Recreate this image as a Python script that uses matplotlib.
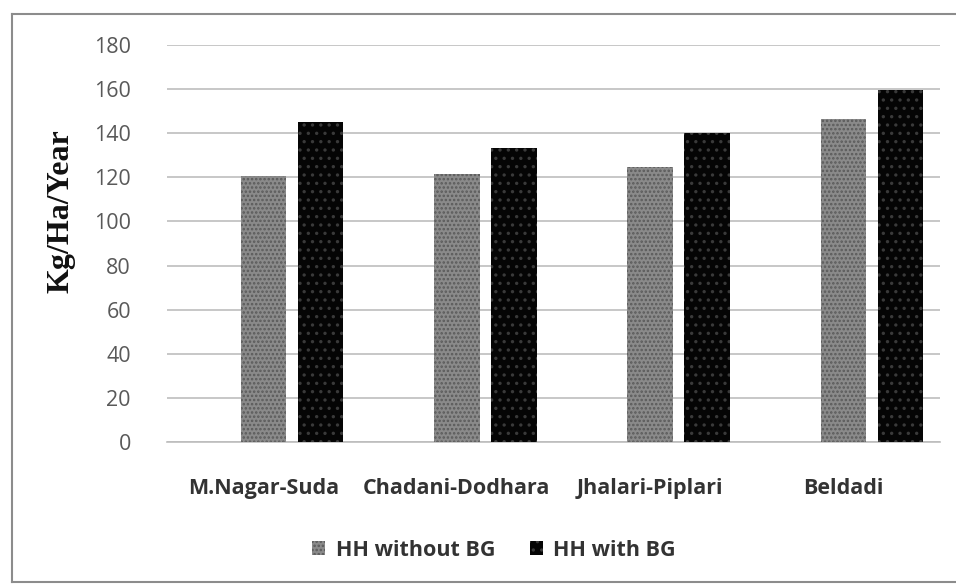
import numpy as np
import matplotlib.pyplot as plt
from matplotlib.lines import Line2D

sites = ["M.Nagar-Suda", "Chadani-Dodhara", "Jhalari-Piplari", "Beldadi"]
without_bg = [120.5, 121.5, 124.5, 146.5]
with_bg = [145, 133.5, 140, 159.5]
yticks = list(range(0, 181, 20))

plt.rcParams['hatch.linewidth'] = 1.2

fig = plt.figure(figsize=(9.56, 5.86), dpi=100)
ax = fig.add_axes([167 / 956, 1 - 442 / 586, 773 / 956, 397 / 586])

x = np.arange(len(sites))
w = 0.235
off = 0.295

ax.bar(x, without_bg, w, color="#8a8a8a", edgecolor="#5a5a5a", hatch="....",
       linewidth=0, label="HH without BG", zorder=3)
ax.bar(x + off, with_bg, w, color="#050505", edgecolor="#3a3a3a", hatch="..",
       linewidth=0, label="HH with BG", zorder=3)

ax.set_xlim(-0.5, len(sites) - 0.5)
ax.set_ylim(0, 180)
ax.set_yticks(yticks)
ax.set_xticks(x)
ax.set_xticklabels(sites, fontfamily="Open Sans", fontweight="bold",
                   fontsize=15.5, color="#333333")
ax.tick_params(axis="x", length=0, pad=26)
ax.tick_params(axis="y", length=0, pad=26, labelsize=15.5, labelcolor="#595959")
for lab in ax.get_yticklabels():
    lab.set_fontfamily("Open Sans")

ax.grid(axis="y", color="#bdbdbd", linewidth=1.2, zorder=0)
for s in ["top", "right", "left"]:
    ax.spines[s].set_visible(False)
ax.spines["bottom"].set_color("#bdbdbd")
ax.spines["bottom"].set_linewidth(1.2)

ax.set_ylabel("Kg/Ha/Year", fontfamily="Liberation Serif", fontweight="bold",
              fontsize=23, color="#111111")
ax.yaxis.set_label_coords(-0.118, 0.582)

leg = fig.legend(loc="center", bbox_to_anchor=(494 / 956, 1 - 550 / 586),
                 ncol=2, frameon=False, handlelength=0.6, handleheight=0.6,
                 columnspacing=1.6, handletextpad=0.5,
                 prop={"family": "Open Sans", "weight": "bold", "size": 15.5})
for t in leg.get_texts():
    t.set_color("#333333")

# outer chart border: left, top and bottom edges only
x0, y0, y1 = 12 / 956, 4 / 586, 1 - 14 / 586
for xs, ys in [([x0, x0], [y0, y1]), ([x0, 1], [y1, y1]), ([x0, 1], [y0, y0])]:
    fig.add_artist(Line2D(xs, ys, transform=fig.transFigure,
                          color="#8c8c8c", linewidth=1.5))

fig.savefig("out.png", dpi=100)
